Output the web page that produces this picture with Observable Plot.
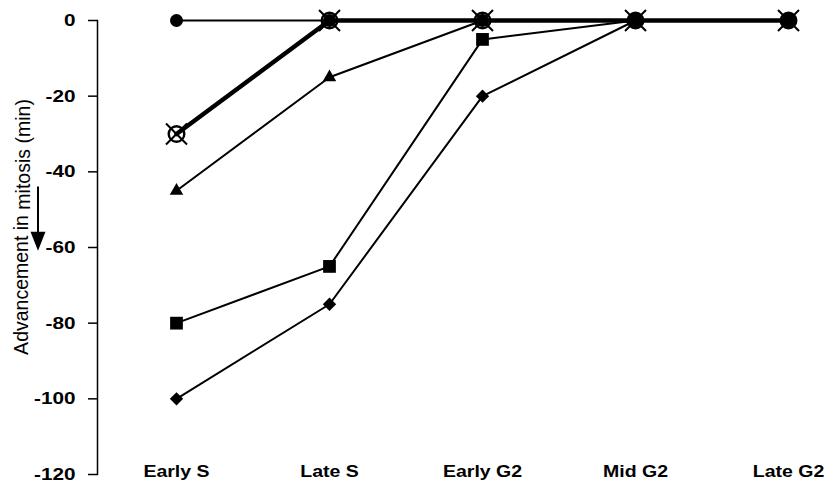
<!DOCTYPE html>
<html>
<head>
<meta charset="utf-8">
<script src="https://cdn.jsdelivr.net/npm/d3@7"></script>
<script src="https://cdn.jsdelivr.net/npm/@observablehq/plot@0.6"></script>
<style>
  html, body { margin: 0; padding: 0; background: white; }
</style>
</head>
<body>
<div id="chart"></div>
<script>
const categories = ["Early S", "Late S", "Early G2", "Mid G2", "Late G2"];
const circleSeries   = [0, 0, 0, 0, 0];
const crossedSeries  = [-30, 0, 0, 0, 0];
const triangleSeries = [-45, -15, 0, 0, 0];
const squareSeries   = [-80, -65, -5, 0, 0];
const diamondSeries  = [-100, -75, -20, 0, 0];
const yTicks = [0, -20, -40, -60, -80, -100, -120];
const yLabel = ["Advancement in ", "mitosis (min)"];
const arrowFrom = -44, arrowTo = -61;

const rows = s => categories.map((c, i) => ({c, v: s[i]}));
const line = (s, w) => Plot.line(rows(s), {x: "c", y: "v", stroke: "black", strokeWidth: w});

const chart = Plot.plot({
  width: 837, height: 495,
  marginLeft: 97, marginRight: 20, marginTop: 20, marginBottom: 21,
  style: {fontFamily: "'Liberation Sans', Arial, sans-serif", background: "white", color: "black"},
  x: {type: "point", domain: categories, padding: 0.345, align: 0.736},
  y: {domain: [-120, 0]},
  marks: [
    Plot.frame({anchor: "left", stroke: "black", strokeWidth: 1.5}),
    Plot.axisY({ticks: yTicks, tickSize: 9, tickPadding: 13, tickFormat: d => String(d),
                fontSize: 17, fontWeight: "bold", label: null, strokeWidth: 1.5}),
    Plot.axisX({tickSize: 0, label: null, fontSize: 16, fontWeight: "bold", dy: -18}),
    line(circleSeries, 2),
    line(triangleSeries, 2),
    line(squareSeries, 2),
    line(diamondSeries, 2),
    line(crossedSeries, 4.5),
    Plot.dot(rows(triangleSeries), {x: "c", y: "v", symbol: "triangle", r: 5, fill: "black"}),
    Plot.dot(rows(squareSeries), {x: "c", y: "v", symbol: "square", r: 7.2, fill: "black"}),
    Plot.dot(rows(diamondSeries), {x: "c", y: "v", symbol: "diamond2", r: 6, fill: "black"}),
    Plot.dot(rows(circleSeries), {x: "c", y: "v", symbol: "circle", r: 6.5, fill: "black"}),
    Plot.dot(rows(crossedSeries), {x: "c", y: "v", symbol: "circle", r: 7.8, fill: "none", stroke: "black", strokeWidth: 2.4}),
    Plot.dot(rows(crossedSeries), {x: "c", y: "v", symbol: "times", r: 9.6, stroke: "black", strokeWidth: 2})
  ]
});

const svg = d3.select(chart);
// widen tick labels a little, like the scanned original
svg.selectAll('g[aria-label="y-axis tick label"] text, g[aria-label="x-axis tick label"] text')
  .each(function() {
    const t = this.getAttribute("transform") || "";
    this.setAttribute("transform", t + " scale(1.22,1)");
  });

const yS = chart.scale("y");
const yc = (yS.apply(-120) + yS.apply(0)) / 2;
const lab = svg.append("text")
  .attr("transform", `translate(23,${yc - 20}) rotate(-90)`)
  .attr("text-anchor", "middle")
  .attr("dominant-baseline", "middle")
  .attr("font-size", 19.5)
  .attr("fill", "black");
lab.append("tspan").text(yLabel[0]);
lab.append("tspan").attr("dy", 2).text(yLabel[1]);

const y0 = yS.apply(arrowFrom), y1 = yS.apply(arrowTo);
svg.append("line").attr("x1", 38).attr("x2", 38).attr("y1", y0).attr("y2", y1 - 14)
  .attr("stroke", "black").attr("stroke-width", 2);
svg.append("path").attr("d", `M30.5,${y1 - 19} L45.5,${y1 - 19} L38,${y1} Z`).attr("fill", "black");

document.getElementById("chart").appendChild(chart);
</script>
</body>
</html>
